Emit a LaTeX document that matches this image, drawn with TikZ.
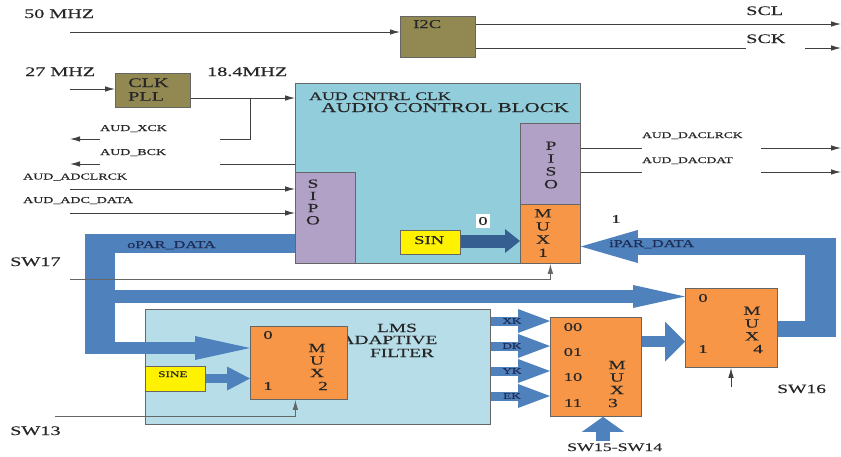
\documentclass[tikz,border=0pt]{standalone}
\usepackage{fontspec}
\setmainfont[FakeStretch=1.55,FakeBold=0.35]{Liberation Serif}
\usetikzlibrary{arrows.meta}
\definecolor{olivebox}{RGB}{146,136,82}
\definecolor{audblue}{RGB}{146,205,220}
\definecolor{lmsblue}{RGB}{183,222,232}
\definecolor{purp}{RGB}{178,161,199}
\definecolor{orng}{RGB}{247,150,70}
\definecolor{busblue}{RGB}{79,129,189}
\definecolor{darkbus}{RGB}{54,95,145}
\definecolor{navy}{RGB}{30,45,85}
\newcommand\fsz[2]{\fontsize{#1}{#2}\selectfont}
\begin{document}
\begin{tikzpicture}[x=1pt,y=-1pt,
  box/.style={draw=black!60, line width=0.8pt, inner sep=0pt, anchor=north west},
  t/.style={inner sep=0pt, text=black!85},
  sig/.style={draw=black!75, line width=0.9pt},
  sigarr/.style={sig, -{Latex[length=10pt,width=5.5pt]}},
  fat/.style n args={3}{draw=busblue, line width=#1, -{Triangle[length=#2,width=#3,line width=0pt]}},
  gap/.style={t, fill=white, anchor=base west, align=left},
  letters/.style={t, align=center}
]
\fill[white] (0,0) rectangle (841,456);
\useasboundingbox (0,0) rectangle (841,456);

% ---------- boxes ----------
\node[box, fill=audblue, minimum width=285pt, minimum height=180pt] (aud) at (295,83) {};
\node[box, fill=purp, minimum width=60pt, minimum height=91pt] (sipo) at (295,172) {};
\node[box, fill=purp, minimum width=60pt, minimum height=81pt] (piso) at (520,123) {};
\node[box, fill=orng, minimum width=60pt, minimum height=59pt] (mux1) at (520,204) {};
\node[box, fill=yellow, minimum width=60pt, minimum height=24pt] (sin) at (400,230) {};
\node[box, fill=lmsblue, minimum width=345pt, minimum height=115pt] (lms) at (145,309) {};
\node[t, anchor=base, font=\fsz{12.5}{12.5}] (lmst1) at (397,332) {LMS};
\node[t, anchor=base, font=\fsz{12.5}{12.5}] (lmst2) at (389,344) {ADAPTIVE};
\node[t, anchor=base, font=\fsz{12.5}{12.5}] (lmst3) at (402,357) {FILTER};
\node[box, fill=yellow, minimum width=60pt, minimum height=25pt] (sine) at (145,366) {};
\node[box, fill=orng, minimum width=97pt, minimum height=73pt] (mux2) at (250,326) {};
\node[box, fill=orng, minimum width=91pt, minimum height=99pt] (mux3) at (550,317) {};
\node[box, fill=orng, minimum width=92pt, minimum height=79pt] (mux4) at (685,288) {};
\node[box, fill=olivebox, minimum width=75pt, minimum height=41pt] (i2c) at (400,16) {};
\node[box, fill=olivebox, minimum width=75pt, minimum height=34pt] (pll) at (115,73) {};

% ---------- texts in boxes ----------
\node[t, anchor=base west, font=\fsz{12}{12}] (i2ct) at (413,28) {I2C};
\node[t, anchor=base west, font=\fsz{13}{13}] (pllt1) at (128,87) {CLK};
\node[t, anchor=base west, font=\fsz{13}{13}] (pllt2) at (128,100.7) {PLL};
\node[t, anchor=base west, font=\fsz{11.5}{11.5}] (audt1) at (309,100) {AUD CNTRL CLK};
\node[t, anchor=base west, font=\fsz{13.5}{13.5}] (audt2) at (321,112) {AUDIO CONTROL BLOCK};
\node[letters, font=\fsz{12.5}{12.2}] (sipot) at (313,202) {S\\I\\P\\O};
\node[letters, font=\fsz{12.5}{12.8}] (pisot) at (551,165) {P\\I\\S\\O};
\node[letters, font=\fsz{12.5}{13.2}] (mux1t) at (543,233) {M\\U\\X\\1};
\node[t, anchor=base west, font=\fsz{12}{12}] (sint) at (414,244) {SIN};
\node[t, anchor=base west, font=\fsz{8.5}{8.5}] (sinet) at (158,377) {SINE};
\node[letters, font=\fsz{12.5}{12.5}] (mux2t) at (317,360.5) {M\\U\\X};
\node[t, font=\fsz{12.5}{12.5}] (mux2n) at (323,386) {2};
\node[t, font=\fsz{12}{12}] (mux2a) at (268,335) {0};
\node[t, font=\fsz{12}{12}] (mux2b) at (268,386) {1};
\node[letters, font=\fsz{12.5}{12.5}] (mux3t) at (617,377.5) {M\\U\\X};
\node[t, font=\fsz{12.5}{12.5}] (mux3n) at (613,403) {3};
\node[t, font=\fsz{12}{12}] (mux3a) at (573,327) {00};
\node[t, font=\fsz{12}{12}] (mux3b) at (573,352) {01};
\node[t, font=\fsz{12}{12}] (mux3c) at (573,377) {10};
\node[t, font=\fsz{12}{12}] (mux3d) at (573,403) {11};
\node[letters, font=\fsz{12.5}{12.8}] (mux4t) at (752,323.5) {M\\U\\X};
\node[t, font=\fsz{12.5}{12.5}] (mux4n) at (758,349) {4};
\node[t, font=\fsz{12}{12}] (mux4a) at (703,298) {0};
\node[t, font=\fsz{12}{12}] (mux4b) at (703,349) {1};

% ---------- thick buses ----------
\fill[busblue] (85,234) rectangle (sipo.west |- 0,253);
\fill[busblue] (85,234) rectangle (115,354);
\draw[fat={13pt}{52pt}{23pt}] (110,296.5) -- (mux4.west |- 0,296.5);
\draw[fat={12pt}{55pt}{24pt}] (110,348) -- (mux2.west |- 0,348);
\draw[fat={9pt}{23pt}{24pt}] (sine.east |- 0,378.5) -- (mux2.west |- 0,378.5);
\draw[fat={13pt}{15pt}{24pt}, draw=darkbus] (sin.east |- 0,241) -- (mux1.west |- 0,241);
\draw[fat={9pt}{32pt}{24pt}] (lms.east |- 0,321) -- (mux3.west |- 0,321);
\draw[fat={9pt}{32pt}{24pt}] (lms.east |- 0,346) -- (mux3.west |- 0,346);
\draw[fat={9pt}{32pt}{24pt}] (lms.east |- 0,371) -- (mux3.west |- 0,371);
\draw[fat={9pt}{32pt}{24pt}] (lms.east |- 0,396) -- (mux3.west |- 0,396);
\draw[fat={11pt}{20pt}{40pt}] (mux3.east |- 0,341.5) -- (mux4.west |- 0,341.5);
\coordinate (sw1514) at (603,441);
\draw[fat={14pt}{15pt}{42pt}] (sw1514) -- (sw1514 |- mux3.south);
\fill[busblue] (mux4.east |- 0,321) rectangle (836,337);
\fill[busblue] (805,238) rectangle (836,337);
\draw[fat={17pt}{57pt}{33pt}] (836,246.5) -- (mux1.east |- 0,246.5);

\node[t, anchor=base west, text=navy, font=\fsz{10.5}{10.5}] (opar) at (127,248) {oPAR\_DATA};
\node[t, anchor=base west, text=navy, font=\fsz{10.5}{10.5}] (ipar) at (609,247) {iPAR\_DATA};
\node[t, text=navy, font=\fsz{8.5}{8.5}] (xk) at (512,321) {XK};
\node[t, text=navy, font=\fsz{8.5}{8.5}] (dk) at (512,346) {DK};
\node[t, text=navy, font=\fsz{8.5}{8.5}] (yk) at (512,371) {YK};
\node[t, text=navy, font=\fsz{8.5}{8.5}] (ek) at (512,396) {EK};
\node[t, fill=white, inner sep=2.5pt, font=\fsz{12}{12}] (zero) at (483,221) {0};
\node[t, font=\fsz{12}{12}] (one) at (616,219) {1};

% ---------- thin signals ----------
\coordinate (in50) at (70,32);
\draw[sigarr] (in50) -- (in50 -| i2c.west);
\coordinate (scl) at (841,24);
\coordinate (sck) at (841,48);
\draw[sigarr] (scl -| i2c.east) -- (scl);
\draw[sigarr] (sck -| i2c.east) -- (sck);
\coordinate (in27) at (70,89);
\draw[sigarr] (in27) -- (in27 -| pll.west);
\coordinate (clk) at (pll.east |- 0,98);
\draw[sigarr] (clk) -- (clk -| aud.west);
\coordinate (br) at (250,98);
\coordinate (xck) at (70,139);
\draw[sigarr] (br) |- (xck);
\coordinate (bck) at (70,164);
\draw[sigarr] (bck -| aud.west) -- (bck);
\coordinate (adclr) at (70,189);
\draw[sigarr] (adclr) -- (adclr -| sipo.west);
\coordinate (adcd) at (70,213);
\draw[sigarr] (adcd) -- (adcd -| sipo.west);
\coordinate (daclr) at (841,148);
\draw[sigarr] (daclr -| piso.east) -- (daclr);
\coordinate (dacd) at (841,172);
\draw[sigarr] (dacd -| piso.east) -- (dacd);
\coordinate (sw17) at (70,279);
\draw[sigarr, draw=black!60] (sw17) -| (mux1.south);
\coordinate (sw13) at (55,416);
\draw[sigarr, draw=black!60] (sw13) -| ([xshift=-3.5pt]mux2.south);
\coordinate (sw16) at (731,387);
\draw[sigarr] (sw16) -- (sw16 |- mux4.south);

% ---------- outside labels ----------
\node[t, anchor=base west, font=\fsz{13}{13}] (l50) at (24,18) {50 MHZ};
\node[t, anchor=base west, font=\fsz{13}{13}] (l27) at (25,76) {27 MHZ};
\node[t, anchor=base west, font=\fsz{13}{13}] (l184) at (207,76) {18.4MHZ};
\node[t, anchor=base west, font=\fsz{13}{13}] (lscl) at (746,15) {SCL};
\node[gap, text width=59pt, text depth=6pt, font=\fsz{13}{13}] (lsck) at (746,43) {SCK};
\node[gap, text width=120pt, text depth=9pt, font=\fsz{9}{9}] (lxck) at (100,131) {AUD\_XCK};
\node[gap, text width=120pt, text depth=10pt, font=\fsz{9}{9}] (lbck) at (100,155) {AUD\_BCK};
\node[t, anchor=base west, font=\fsz{9}{9}] (ladclr) at (23,179.5) {AUD\_ADCLRCK};
\node[t, anchor=base west, font=\fsz{9}{9}] (ladcd) at (23,203) {AUD\_ADC\_DATA};
\node[gap, text width=119pt, text depth=11pt, font=\fsz{8.7}{8.7}] (ldaclr) at (642,138) {AUD\_DACLRCK};
\node[gap, text width=119pt, text depth=10pt, font=\fsz{8.7}{8.7}] (ldacd) at (642,163) {AUD\_DACDAT};
\node[t, anchor=base west, font=\fsz{13}{13}] (lsw17) at (10,266) {SW17};
\node[t, anchor=base west, font=\fsz{13}{13}] (lsw13) at (10,435) {SW13};
\node[t, anchor=base west, font=\fsz{12.6}{12.6}] (lsw16) at (777,393) {SW16};
\node[t, anchor=base west, font=\fsz{11.5}{11.5}] (lsw1514) at (567,451) {SW15-SW14};
\end{tikzpicture}
\end{document}
